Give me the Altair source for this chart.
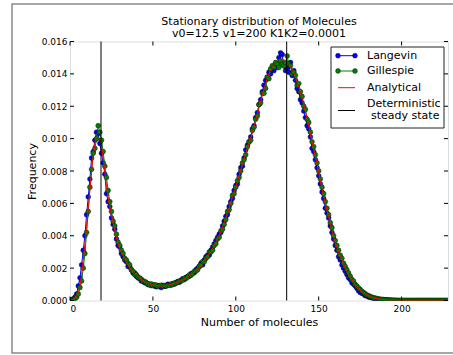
import altair as alt
import pandas as pd

# ---------------- data ----------------
x_ticks = [0, 50, 100, 150, 200]
y_ticks = [0.000, 0.002, 0.004, 0.006, 0.008, 0.010, 0.012, 0.014, 0.016]
steady_states = [18.7, 130.7]
title_lines = ["Stationary distribution of Molecules", "v0=12.5 v1=200 K1K2=0.0001"]

# Analytical curve, sampled every 2 molecules (0..228)
analytic_n = list(range(0, 229, 2))
analytic = [
    0.0, 0.00006, 0.0003, 0.0009, 0.0025, 0.0046, 0.0068, 0.0089, 0.0101, 0.0100,      # 0-18
    0.0088, 0.0071, 0.0058, 0.0048, 0.0039, 0.0032, 0.0028, 0.0024, 0.0020, 0.0018,    # 20-38
    0.0016, 0.00138, 0.00122, 0.0011, 0.00102, 0.00096, 0.00092, 0.0009, 0.0009, 0.00092,  # 40-58
    0.00096, 0.00102, 0.0011, 0.00118, 0.00128, 0.0014, 0.00153, 0.00168, 0.00185, 0.00204,  # 60-78
    0.00228, 0.00255, 0.0029, 0.0032, 0.0036, 0.0040, 0.0045, 0.0051, 0.0057, 0.0064,  # 80-98
    0.0070, 0.0077, 0.0084, 0.0091, 0.0097, 0.0104, 0.0111, 0.0119, 0.0127, 0.0134,    # 100-118
    0.0140, 0.0144, 0.0147, 0.0149, 0.0149, 0.0148, 0.0146, 0.0143, 0.0138, 0.0132,    # 120-138
    0.0125, 0.0117, 0.0108, 0.0098, 0.0089, 0.0079, 0.0069, 0.0060, 0.0052, 0.0043,    # 140-158
    0.0036, 0.0030, 0.0025, 0.0020, 0.0016, 0.0013, 0.00098, 0.00074, 0.00055, 0.0004,  # 160-178
    0.00029, 0.0002, 0.00014, 0.0001, 0.00007, 0.00005, 0.00003, 0.00002, 0.00001, 0.00001,  # 180-198
    0.0, 0.0, 0.0, 0.0, 0.0, 0.0, 0.0, 0.0, 0.0, 0.0,                                  # 200-218
    0.0, 0.0, 0.0, 0.0, 0.0,                                                           # 220-228
]

# Langevin histogram, one value per molecule count (0..228)
langevin = [
    0.0, 0.00004, 0.0001, 0.0002, 0.0004, 0.0009, 0.0014, 0.0022, 0.0031, 0.0040,
    0.0053, 0.0064, 0.0075, 0.0088, 0.0092, 0.0099, 0.0104, 0.0103, 0.0097, 0.0091,
    0.0085, 0.0078, 0.0066, 0.0061, 0.0058, 0.0051, 0.0047, 0.0044, 0.0038, 0.0034,
    0.0033, 0.0029, 0.0027, 0.0025, 0.0024, 0.0021, 0.0021, 0.0019, 0.0017, 0.0017,
    0.0015, 0.0014, 0.00135, 0.0012, 0.0012, 0.0011, 0.00108, 0.00098, 0.0010, 0.00092,
    0.00095, 0.0009, 0.00085, 0.00092, 0.00088, 0.0008, 0.00093, 0.00088, 0.0009, 0.0010,
    0.00098, 0.00095, 0.00104, 0.00101, 0.0011, 0.00118, 0.00112, 0.00125, 0.00134, 0.0013,
    0.00142, 0.00148, 0.0015, 0.00165, 0.0017, 0.00172, 0.0019, 0.0020, 0.0021, 0.0023,
    0.0022, 0.0025, 0.0027, 0.0028, 0.0028, 0.0031, 0.0033, 0.0035, 0.0037, 0.0039,
    0.0041, 0.0042, 0.0046, 0.0049, 0.0052, 0.0053, 0.0058, 0.0061, 0.0063, 0.0068,
    0.0071, 0.0072, 0.0078, 0.0082, 0.0083, 0.0088, 0.0093, 0.0096, 0.0098, 0.0101,
    0.0106, 0.0108, 0.0113, 0.0116, 0.0121, 0.0124, 0.0129, 0.0133, 0.0136, 0.0138,
    0.0141, 0.0140, 0.0144, 0.0142, 0.0146, 0.0144, 0.0150, 0.0153, 0.0152, 0.0145,
    0.0142, 0.0144, 0.0141, 0.0147, 0.0139, 0.0142, 0.0136, 0.0131, 0.0129, 0.0124,
    0.0122, 0.0117, 0.0113, 0.0108, 0.0106, 0.0101, 0.0094, 0.0092, 0.0087, 0.0082,
    0.0077, 0.0072, 0.0067, 0.0063, 0.0057, 0.0054, 0.0051, 0.0046, 0.0042, 0.0038,
    0.0034, 0.0031, 0.0027, 0.0025, 0.0022, 0.0020, 0.0018, 0.0016, 0.0014, 0.0013,
    0.0011, 0.0010, 0.0009, 0.00075, 0.0006, 0.0005, 0.00045, 0.0004, 0.0003, 0.00028,
    0.00022, 0.0002, 0.00016, 0.00012, 0.0001, 0.00009, 0.00007, 0.00005, 0.00005, 0.00004,
    0.00003, 0.00003, 0.00002, 0.00002, 0.00001, 0.00001, 0.00001, 0.0, 0.0, 0.0,
    0.0, 0.0, 0.0, 0.0, 0.0, 0.0, 0.0, 0.0, 0.0, 0.0,
    0.0, 0.0, 0.0, 0.0, 0.0, 0.0, 0.0, 0.0, 0.0, 0.0,
    0.0, 0.0, 0.0, 0.0, 0.0, 0.0, 0.0, 0.0, 0.0,
]

# Gillespie histogram, one value per molecule count (0..228)
gillespie = [
    0.0, 0.0, 0.00003, 0.0001, 0.0002, 0.0004, 0.0008, 0.0012, 0.0020, 0.0029,
    0.0042, 0.0055, 0.0070, 0.0081, 0.0091, 0.0094, 0.0100, 0.0108, 0.0104, 0.0099,
    0.0092, 0.0083, 0.0076, 0.0068, 0.0061, 0.0055, 0.0049, 0.0046, 0.0041, 0.0036,
    0.0034, 0.0031, 0.0029, 0.0026, 0.0025, 0.0023, 0.0022, 0.0019, 0.0018, 0.0016,
    0.0016, 0.00145, 0.0014, 0.00132, 0.0012, 0.00118, 0.0011, 0.00104, 0.00096, 0.00102,
    0.00092, 0.00097, 0.00095, 0.00086, 0.00092, 0.00094, 0.00087, 0.00093, 0.00089, 0.00095,
    0.00093, 0.00102, 0.00098, 0.00108, 0.00107, 0.00112, 0.0012, 0.0012, 0.00126, 0.00138,
    0.00136, 0.00145, 0.00158, 0.00156, 0.00166, 0.0018, 0.00182, 0.0019, 0.0021, 0.0022,
    0.0024, 0.0024, 0.0026, 0.0027, 0.0030, 0.0030, 0.0031, 0.0034, 0.0035, 0.0038,
    0.0039, 0.0043, 0.0044, 0.0047, 0.0050, 0.0055, 0.0056, 0.0060, 0.0065, 0.0066,
    0.0070, 0.0074, 0.0076, 0.0080, 0.0085, 0.0087, 0.0090, 0.0095, 0.0098, 0.0099,
    0.0105, 0.0107, 0.0112, 0.0114, 0.0121, 0.0122, 0.0128, 0.0128, 0.0131, 0.0138,
    0.0137, 0.0143, 0.0145, 0.0144, 0.0147, 0.0146, 0.0144, 0.0148, 0.0146, 0.0145,
    0.0147, 0.0151, 0.0146, 0.0145, 0.0140, 0.0141, 0.0139, 0.0133, 0.0134, 0.0129,
    0.0126, 0.0120, 0.0118, 0.0112, 0.0110, 0.0104, 0.0098, 0.0095, 0.0090, 0.0085,
    0.0080, 0.0075, 0.0070, 0.0066, 0.0061, 0.0057, 0.0053, 0.0048, 0.0045, 0.0040,
    0.0037, 0.0034, 0.0031, 0.0028, 0.0026, 0.0023, 0.0021, 0.0019, 0.0017, 0.0015,
    0.0013, 0.0012, 0.0010, 0.0009, 0.00078, 0.00068, 0.00058, 0.00049, 0.00042, 0.00035,
    0.0003, 0.00025, 0.00021, 0.00017, 0.00015, 0.00012, 0.0001, 0.00008, 0.00007, 0.00006,
    0.00005, 0.00004, 0.00003, 0.00002, 0.00002, 0.00001, 0.00001, 0.00001, 0.0, 0.0,
    0.0, 0.0, 0.0, 0.0, 0.0, 0.0, 0.0, 0.0, 0.0, 0.0,
    0.0, 0.0, 0.0, 0.0, 0.0, 0.0, 0.0, 0.0, 0.0, 0.0,
    0.0, 0.0, 0.0, 0.0, 0.0, 0.0, 0.0, 0.0, 0.0,
]

# ---------------- chart ----------------
W, H = 378, 259
FONT = "DejaVu Sans"
BLUE, GREEN, RED = "#0000ff", "#008000", "#ff0000"

xs = alt.Scale(domain=[0, 228], nice=False, zero=False)
ys = alt.Scale(domain=[0, 0.016], nice=False)

df_l = pd.DataFrame({"n": list(range(len(langevin))), "f": langevin})
df_g = pd.DataFrame({"n": list(range(len(gillespie))), "f": gillespie})
df_a = pd.DataFrame({"n": analytic_n[:len(analytic)], "f": analytic[:len(analytic_n)]})
df_s = pd.DataFrame({"n": steady_states})
df_xt = pd.DataFrame({"n": x_ticks})
df_yt = pd.DataFrame({"f": y_ticks})

x_axis = alt.Axis(values=x_ticks, ticks=False, domain=False, grid=False, labelOverlap=False,
                  labelFontSize=9, labelColor="black", labelPadding=4, labelFont=FONT,
                  title="Number of molecules", titleFontSize=11, titleFontWeight="normal",
                  titleColor="black", titleFont=FONT, titleX=W / 2, titleY=22,
                  titleBaseline="middle")
y_axis = alt.Axis(values=y_ticks, ticks=False, domain=False, grid=False, format=".3f",
                  labelOverlap=False, labelBound=False, labelFlush=False,
                  labelFontSize=9, labelColor="black", labelPadding=3, labelFont=FONT,
                  title="Frequency", titleFontSize=11, titleFontWeight="normal",
                  titleColor="black", titleFont=FONT, titleX=-38, titleY=H / 2,
                  titleBaseline="middle", titleAlign="center", titleAngle=-90)

X = alt.X("n:Q", scale=xs, axis=x_axis)
Y = alt.Y("f:Q", scale=ys, axis=y_axis)
Xp = alt.X("n:Q", scale=xs, axis=x_axis)
Yp = alt.Y("f:Q", scale=ys, axis=y_axis)

l_line = alt.Chart(df_l).mark_line(color=BLUE, strokeWidth=1, clip=True).encode(x=X, y=Y)
l_pts = alt.Chart(df_l).mark_circle(color=BLUE, stroke="black", strokeWidth=0.4,
                                     size=24, opacity=1, clip=True).encode(x=Xp, y=Yp)
g_line = alt.Chart(df_g).mark_line(color=GREEN, strokeWidth=1, clip=True).encode(x=Xp, y=Yp)
g_pts = alt.Chart(df_g).mark_circle(color=GREEN, stroke="black", strokeWidth=0.4,
                                     size=24, opacity=1, clip=True).encode(x=Xp, y=Yp)
a_line = alt.Chart(df_a).mark_line(color=RED, strokeWidth=1, clip=True,
                                   interpolate="monotone").encode(x=Xp, y=Yp)
s_rules = alt.Chart(df_s).mark_rule(color="black", strokeWidth=1).encode(x=Xp)

# inward ticks on all four sides
tick_b = alt.Chart(df_xt).mark_rule(color="black").encode(x=Xp, y=alt.value(H), y2=alt.value(H - 4))
tick_t = alt.Chart(df_xt).mark_rule(color="black").encode(x=Xp, y=alt.value(0), y2=alt.value(4))
tick_l = alt.Chart(df_yt).mark_rule(color="black").encode(y=Yp, x=alt.value(0), x2=alt.value(4))
tick_r = alt.Chart(df_yt).mark_rule(color="black").encode(y=Yp, x=alt.value(W), x2=alt.value(W - 4))

# legend (drawn by hand, matplotlib style)
one = pd.DataFrame({"k": [0]})
LX0, LX1, TX = 268, 285, 297
leg_box = alt.Chart(one).mark_rect(fill="white", stroke="#222", strokeWidth=1).encode(
    x=alt.value(261), x2=alt.value(374), y=alt.value(5.5), y2=alt.value(86.5))

def leg_line(color, y):
    return alt.Chart(one).mark_rule(color=color, strokeWidth=1).encode(
        x=alt.value(LX0), x2=alt.value(LX1), y=alt.value(y))

def leg_dot(color, x, y):
    return alt.Chart(one).mark_circle(color=color, stroke="black", strokeWidth=0.4,
                                      size=24, opacity=1).encode(x=alt.value(x), y=alt.value(y))

def text_at(label, x, y, align="left", size=11):
    return alt.Chart(pd.DataFrame({"t": [label]})).mark_text(
        align=align, baseline="middle", font=FONT, fontSize=size, color="black").encode(
        text="t:N", x=alt.value(x), y=alt.value(y))

legend_layers = [
    leg_box,
    leg_line(BLUE, 14.2), leg_dot(BLUE, LX0, 14.2), leg_dot(BLUE, LX1, 14.2), text_at("Langevin", TX, 14.2),
    leg_line(GREEN, 29.5), leg_dot(GREEN, LX0, 29.5), leg_dot(GREEN, LX1, 29.5), text_at("Gillespie", TX, 29.5),
    leg_line(RED, 46.2), text_at("Analytical", TX, 46.2),
    leg_line("black", 69), text_at("Deterministic", TX, 62.8), text_at("steady state", TX + 4, 74.5),
]

# two-line title, centred over the plot area
title_layers = [
    text_at(title_lines[0], W / 2, -19.3, align="center"),
    text_at(title_lines[1], W / 2, -7.8, align="center"),
]

frame = alt.Chart(one).mark_rect(fillOpacity=0, stroke="#8a8a8a", strokeWidth=1.5).encode(
    x=alt.value(-58), x2=alt.value(W + 12), y=alt.value(-37.5), y2=alt.value(H + 52.5))

chart = alt.layer(
    l_line, l_pts, g_line, g_pts, a_line, s_rules,
    tick_b, tick_t, tick_l, tick_r,
    *legend_layers, *title_layers, frame,
).properties(
    width=W, height=H,
    autosize="none",
    padding={"left": 70, "top": 41.5, "right": 5, "bottom": 54.5},
    background="white",
).configure_view(stroke="black", strokeWidth=1).configure_axis(
    labelOverlap=False
).configure(font=FONT)

chart.save("out.html", embed_options={"renderer": "svg", "actions": False})
